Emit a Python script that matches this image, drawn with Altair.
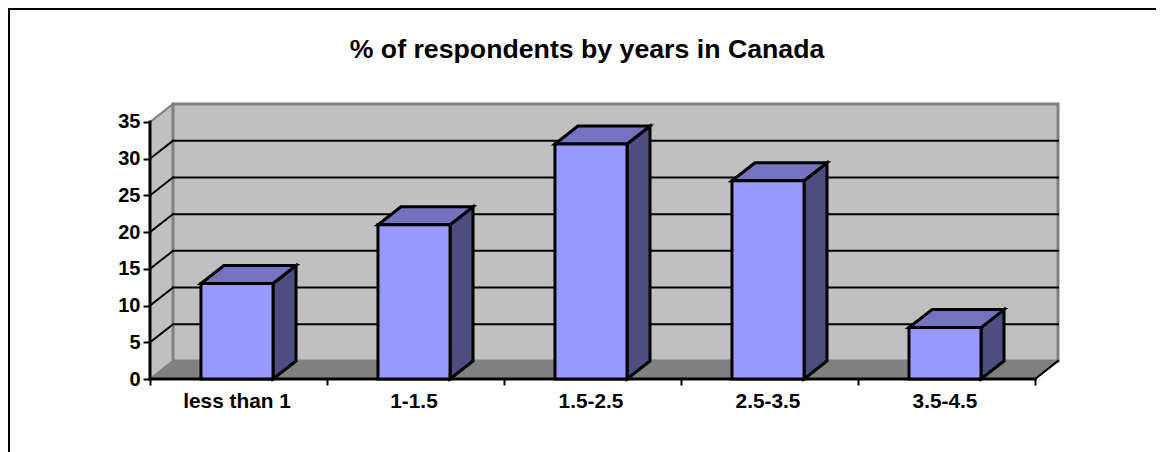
import altair as alt
import pandas as pd

CATEGORIES = ["less than 1", "1-1.5", "1.5-2.5", "2.5-3.5", "3.5-4.5"]
VALUES = [13, 21, 32, 27, 7]
Y_TICKS = [0, 5, 10, 15, 20, 25, 30, 35]
TITLE = "% of respondents by years in Canada"

# Oblique depth of the 3-D box, in data units
DX = 23 / 177
DY = 18 / 7.343
BAR_START = 0.288
BAR_WIDTH = 0.407
N = len(CATEGORIES)
YMAX = Y_TICKS[-1]

FONT = "Liberation Sans"
xs = alt.Scale(domain=[0, N + DX], nice=False, zero=False)
ys = alt.Scale(domain=[0, YMAX + DY], nice=False, zero=False)

x_ax = alt.Axis(
    values=list(range(N + 1)), title=None, domain=False, grid=False, labels=False,
    tickSize=6, tickWidth=2, tickColor="#000000",
)
y_ax = alt.Axis(
    values=Y_TICKS, title=None, domain=False, grid=False, ticks=True,
    tickSize=7, tickWidth=2, tickColor="#000000", labelPadding=3,
    labelFont=FONT, labelFontSize=20, labelFontWeight="bold", labelColor="#000000",
)


def X(field="x"):
    return alt.X(f"{field}:Q", scale=xs, axis=x_ax)


def Y(field="y"):
    return alt.Y(f"{field}:Q", scale=ys, axis=y_ax)


def segs(rows, color, width):
    df = pd.DataFrame([
        {"id": i, "x": a, "y": b, "o": k}
        for i, r in enumerate(rows)
        for k, (a, b) in enumerate(r)
    ])
    return alt.Chart(df).mark_line(color=color, strokeWidth=width, strokeCap="square").encode(
        x=X(), y=Y(), detail="id:N", order="o:Q"
    )


# Walls and floor
floor = alt.Chart(pd.DataFrame([
    {"y": 0, "x": 0, "x2": N},
    {"y": DY, "x": DX, "x2": N + DX},
])).mark_area(orient="horizontal", color="#808080").encode(
    y=Y(), x=X(), x2="x2:Q"
)
left_wall = alt.Chart(pd.DataFrame([
    {"x": 0, "y": 0, "y2": YMAX},
    {"x": DX, "y": DY, "y2": YMAX + DY},
])).mark_area(orient="vertical", color="#c0c0c0").encode(
    x=X(), y=Y(), y2="y2:Q"
)
back_wall = alt.Chart(pd.DataFrame([
    {"x": DX, "x2": N + DX, "y": DY, "y2": YMAX + DY}
])).mark_rect(fill="#c0c0c0", stroke="#808080", strokeWidth=3).encode(
    x=X(), x2="x2:Q", y=Y(), y2="y2:Q"
)

inner = [t for t in Y_TICKS if 0 < t < YMAX]
grid = segs(
    [[(DX, t + DY), (N + DX, t + DY)] for t in inner]
    + [[(0, t), (DX, t + DY)] for t in inner]
    + [[(N, 0), (N + DX, DY)]],
    "#000000", 2,
)
wall_edges = segs(
    [[(0, 0), (DX, DY)], [(0, YMAX), (DX, YMAX + DY)]],
    "#808080", 2,
)
axis_lines = segs(
    [[(0, 0), (0, YMAX)], [(0, 0), (N, 0)]],
    "#000000", 3,
)

# Bars
bars = pd.DataFrame({
    "cat": CATEGORIES,
    "v": VALUES,
    "x0": [i + BAR_START for i in range(N)],
    "x1": [i + BAR_START + BAR_WIDTH for i in range(N)],
})
bars["mid"] = (bars.x0 + bars.x1) / 2
bars["zero"] = 0

side_rows, top_rows = [], []
for r in bars.itertuples():
    side_rows += [
        {"cat": r.cat, "x": r.x1, "y": 0, "y2": r.v},
        {"cat": r.cat, "x": r.x1 + DX, "y": DY, "y2": r.v + DY},
    ]
    top_rows += [
        {"cat": r.cat, "y": r.v, "x": r.x0, "x2": r.x1},
        {"cat": r.cat, "y": r.v + DY, "x": r.x0 + DX, "x2": r.x1 + DX},
    ]

side = alt.Chart(pd.DataFrame(side_rows)).mark_area(
    orient="vertical", fill="#4d4d80", stroke="#000000", strokeWidth=3, strokeJoin="miter"
).encode(x=X(), y=Y(), y2="y2:Q", detail="cat:N")
top = alt.Chart(pd.DataFrame(top_rows)).mark_area(
    orient="horizontal", fill="#7373bf", stroke="#000000", strokeWidth=3, strokeJoin="miter"
).encode(y=Y(), x=X(), x2="x2:Q", detail="cat:N")
front = alt.Chart(bars).mark_rect(
    fill="#9999ff", stroke="#000000", strokeWidth=3
).encode(x=X("x0"), x2="x1:Q", y=Y("zero"), y2="v:Q")

cat_labels = alt.Chart(bars).mark_text(
    font=FONT, fontSize=20.8, fontWeight="bold", color="#000000", baseline="middle", dy=23
).encode(x=X("mid"), y=Y("zero"), text="cat:N")

# Title and outer frame of the chart area
one = alt.Chart(pd.DataFrame({"t": [TITLE]}))
title = one.mark_text(
    font=FONT, fontSize=26.7, fontWeight="bold", color="#000000", align="center", baseline="middle"
).encode(x=alt.value(437), y=alt.value(-54), text="t:N")
frame_top = one.mark_rule(color="#000000", strokeWidth=2).encode(
    x=alt.value(-142), x2=alt.value(1006), y=alt.value(-95)
)
frame_left = one.mark_rule(color="#000000", strokeWidth=2).encode(
    x=alt.value(-141), y=alt.value(-96), y2=alt.value(348)
)

chart = alt.layer(
    floor, left_wall, back_wall, grid, wall_edges, axis_lines,
    side, top, front, cat_labels, title, frame_top, frame_left,
).properties(
    width=908,
    height=275,
    padding={"left": 142, "top": 96, "right": 98, "bottom": 73},
    autosize=alt.AutoSizeParams(type="none"),
).configure_view(stroke=None)

chart.save("out.html", embed_options={"renderer": "svg", "actions": False})
